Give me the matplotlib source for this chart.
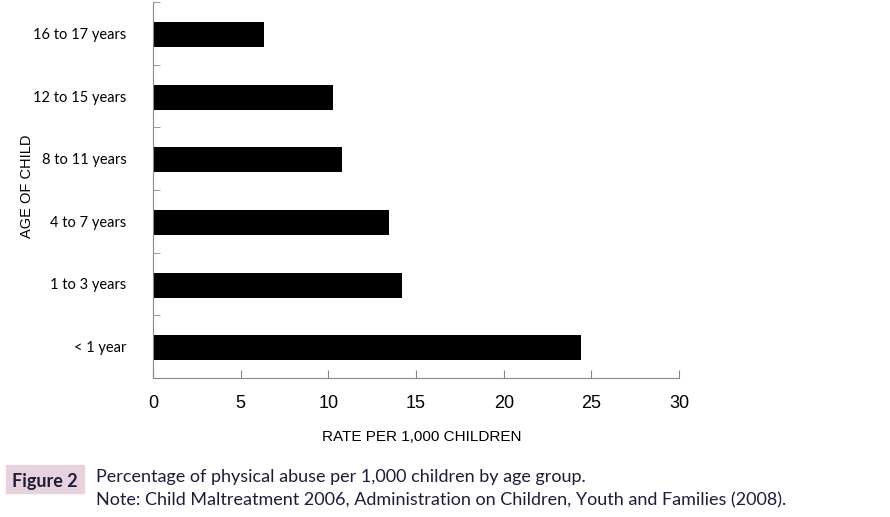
import matplotlib
matplotlib.use("Agg")
from matplotlib import pyplot as plt
from matplotlib.patches import Rectangle

# values
ages = ['< 1 year', '1 to 3 years', '4 to 7 years', '8 to 11 years', '12 to 15 years', '16 to 17 years']
rates = [24.4, 14.2, 13.45, 10.8, 10.25, 6.35]
xticks = [0, 5, 10, 15, 20, 25, 30]

grey = '#888888'
fig = plt.figure(figsize=(8.9, 5.17), dpi=100)
ax = fig.add_axes([0.172, 0.269, 0.591, 0.727])

ax.barh([i - 0.02 for i in range(len(ages))], rates, height=0.4, color='black')
ax.set_xlim(0, 30)
ax.set_ylim(-0.5, len(ages) - 0.5)

ax.set_xticks(xticks)
ax.set_xticklabels([str(t) for t in xticks], family='Liberation Sans', fontsize=13)
ax.set_yticks(range(len(ages)))
ax.set_yticklabels(ages, family='Lato', fontsize=10.5)
ax.set_yticks([i - 0.5 for i in range(len(ages) + 1)], minor=True)
ax.tick_params(axis='y', which='major', length=0, pad=19)
ax.tick_params(axis='y', which='minor', length=5, direction='in', color=grey)
ax.tick_params(axis='x', length=6, direction='in', color=grey, pad=12)

for s in ['top', 'right']:
    ax.spines[s].set_visible(False)
for s in ['left', 'bottom']:
    ax.spines[s].set_color(grey)

ax.set_xlabel('RATE PER 1,000 CHILDREN', family='Liberation Sans', fontsize=11)
ax.xaxis.set_label_coords(0.51, -0.138)
ax.set_ylabel('AGE OF CHILD', family='Liberation Sans', fontsize=10.5)
ax.yaxis.set_label_coords(-0.226, 0.51)

# caption block
fig.patches.append(Rectangle((6 / 890, 1 - 493 / 517), 78 / 890, 28 / 517,
                             transform=fig.transFigure, color='#e7d2de', zorder=0))
fig.text(45 / 890, 1 - 487 / 517, 'Figure 2', family='Lato', fontsize=13, weight='bold',
         color='#1d1d3a', ha='center', va='baseline')
fig.text(96 / 890, 1 - 482 / 517, 'Percentage of physical abuse per 1,000 children by age group.',
         family='Lato', fontsize=13, color='#1d1d3a', va='baseline')
fig.text(96 / 890, 1 - 505 / 517,
         'Note: Child Maltreatment 2006, Administration on Children, Youth and Families (2008).',
         family='Lato', fontsize=13, color='#1d1d3a', va='baseline')

fig.savefig('out.png', dpi=100)
